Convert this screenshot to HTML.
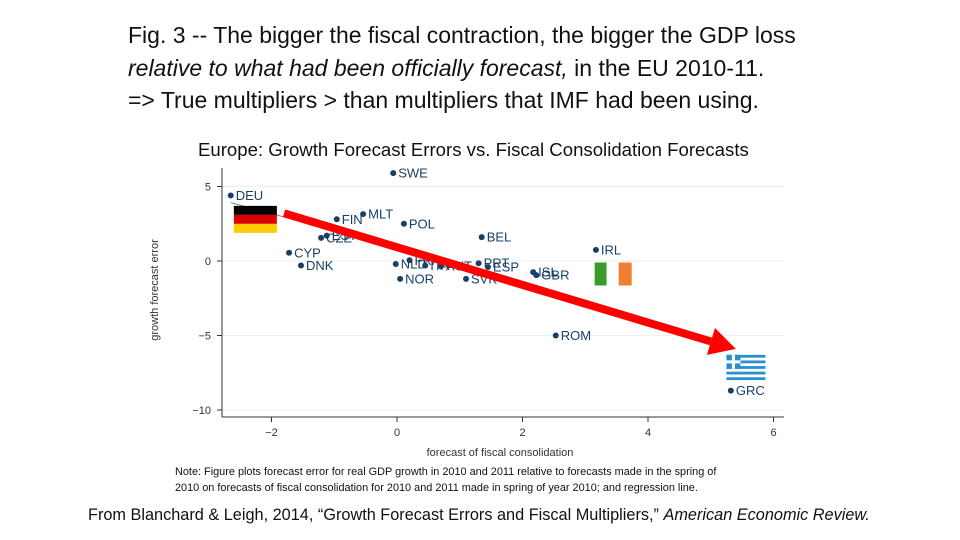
<!DOCTYPE html>
<html><head><meta charset="utf-8"><style>
body{margin:0;background:#fff;width:960px;height:540px;overflow:hidden;position:relative;font-family:"Liberation Sans",sans-serif}
.t{position:absolute;left:128px;font-size:23px;color:#111;white-space:nowrap}
</style></head><body>
<div class="t" style="top:22px">Fig. 3 -- The bigger the fiscal contraction, the bigger the GDP loss</div>
<div class="t" style="top:55px"><i>relative to what had been officially forecast,</i> in the EU 2010-11.</div>
<div class="t" style="top:87px">=&gt; True multipliers &gt; than multipliers that IMF had been using.</div>
<div style="position:absolute;left:198px;top:139px;font-size:18.6px;color:#111;white-space:nowrap">Europe: Growth Forecast Errors vs. Fiscal Consolidation Forecasts</div>
<svg id="c" width="960" height="540" style="position:absolute;left:0;top:0"></svg>
<div style="position:absolute;left:175px;top:464px;font-size:10.9px;line-height:16px;color:#111;white-space:nowrap">Note: Figure plots forecast error for real GDP growth in 2010 and 2011 relative to forecasts made in the spring of<br>2010 on forecasts of fiscal consolidation for 2010 and 2011 made in spring of year 2010; and regression line.</div>
<div style="position:absolute;left:88px;top:506px;font-size:16.3px;color:#111;white-space:nowrap">From Blanchard &amp; Leigh, 2014, “Growth Forecast Errors and Fiscal Multipliers,” <i>American Economic Review.</i></div>
<script>
const countries=["SWE","DEU","FIN","MLT","POL","CZE","EST","BEL","CYP","DNK","IRL","NLD","FRA","ITA","AUT","PRT","ESP","ISL","GBR","NOR","SVK","ROM","GRC"];
const consolidation=[-0.06,-2.65,-0.96,-0.54,0.11,-1.21,-1.12,1.35,-1.72,-1.53,3.17,-0.02,0.2,0.45,0.7,1.3,1.45,2.17,2.22,0.05,1.1,2.53,5.32];
const forecastError=[5.9,4.4,2.8,3.15,2.5,1.55,1.7,1.6,0.55,-0.3,0.75,-0.2,0.05,-0.3,-0.35,-0.15,-0.4,-0.75,-0.95,-1.2,-1.2,-5.0,-8.7];
const xTicks=[-2,0,2,4,6];
const yTicks=[5,0,-5,-10];
const regCoef=[0.9,-1.14];
const regRange=[-2.65,-1.8];
const arrowFrom=[-1.8,3.2];
const arrowTo=[5.4,-5.9];
const flagsData=[["de",-2.6,3.7],["ie",3.15,-0.1],["gr",5.25,-6.3]];
const ns="http://www.w3.org/2000/svg",svg=document.getElementById('c');
const X=v=>397+v*62.75, Y=v=>261-v*14.9;
function el(t,a,p){const e=document.createElementNS(ns,t);for(const k in a)e.setAttribute(k,a[k]);(p||svg).appendChild(e);return e;}
yTicks.forEach(v=>{const g=el('line',{x1:222,x2:784,y1:Y(v),y2:Y(v),stroke:'#eef0f2','stroke-width':1});


el('line',{x1:217,x2:222,y1:Y(v),y2:Y(v),stroke:'#333'});
const t=el('text',{x:211,y:Y(v)+4,'text-anchor':'end','font-size':11,fill:'#333'});t.textContent=v===0?'0':(v<0?'\u2212'+(-v):v);

});
xTicks.forEach(v=>{el('line',{x1:X(v),x2:X(v),y1:417,y2:422,stroke:'#333'});
const t=el('text',{x:X(v),y:436,'text-anchor':'middle','font-size':11,fill:'#333'});t.textContent=v<0?'\u2212'+(-v):v;

});
el('line',{x1:222,x2:222,y1:168,y2:417,stroke:'#333'});
el('line',{x1:222,x2:784,y1:417,y2:417,stroke:'#333'});
let yt=el('text',{x:158,y:290,'text-anchor':'middle','font-size':11,fill:'#333',transform:'rotate(-90 158 290)'});yt.textContent='growth forecast error';


let xt=el('text',{x:500,y:456,'text-anchor':'middle','font-size':11,fill:'#333'});xt.textContent='forecast of fiscal consolidation';


const rl=el('line',{x1:X(regRange[0]),y1:Y(regCoef[0]+regCoef[1]*regRange[0]),x2:X(regRange[1]),y2:Y(regCoef[0]+regCoef[1]*regRange[1]),stroke:'#666','stroke-width':0.8});


countries.forEach((c,i)=>{const g=el('g',{});


el('circle',{cx:X(consolidation[i]),cy:Y(forecastError[i]),r:3,fill:'#1a3f66'},g);
const t=el('text',{x:X(consolidation[i])+5,y:Y(forecastError[i])+4.5,'font-size':13,fill:'#1a3f66'},g);t.textContent=c;});
flagsData.forEach(f=>{const x=X(f[1]),y=Y(f[2]),g=el('g',{});


if(f[0]==='de'){[['#000'],['#d00'],['#fc0']].forEach((c,k)=>el('rect',{x:x,y:y+k*9,width:43,height:9,fill:c[0]},g));}
else if(f[0]==='ie'){el('rect',{x:x,y:y,width:12,height:23,fill:'#3a9a2a'},g);el('rect',{x:x+12,y:y,width:12,height:23,fill:'#fff'},g);el('rect',{x:x+24,y:y,width:13,height:23,fill:'#f08030'},g);}
else{el('rect',{x:x,y:y,width:39,height:25,fill:'#fff'},g);for(let k=0;k<9;k+=2)el('rect',{x:x,y:y+k*2.8,width:39,height:2.8,fill:'#2a8fd0'},g);el('rect',{x:x,y:y,width:14,height:14,fill:'#2a8fd0'},g);el('rect',{x:x+5.5,y:y,width:3,height:14,fill:'#fff'},g);el('rect',{x:x,y:y+5.5,width:14,height:3,fill:'#fff'},g);}
});
const ax1=X(arrowFrom[0]),ay1=Y(arrowFrom[1]),ax2=X(arrowTo[0]),ay2=Y(arrowTo[1]);
const ang=Math.atan2(ay2-ay1,ax2-ax1),L=26,W=14,bx=ax2-L*Math.cos(ang),by=ay2-L*Math.sin(ang);
const ar=el('g',{});


el('line',{x1:ax1,y1:ay1,x2:bx,y2:by,stroke:'#f00','stroke-width':8},ar);
el('polygon',{points:`${ax2},${ay2} ${bx+W*Math.sin(ang)},${by-W*Math.cos(ang)} ${bx-W*Math.sin(ang)},${by+W*Math.cos(ang)}`,fill:'#f00'},ar);
</script></body></html>
